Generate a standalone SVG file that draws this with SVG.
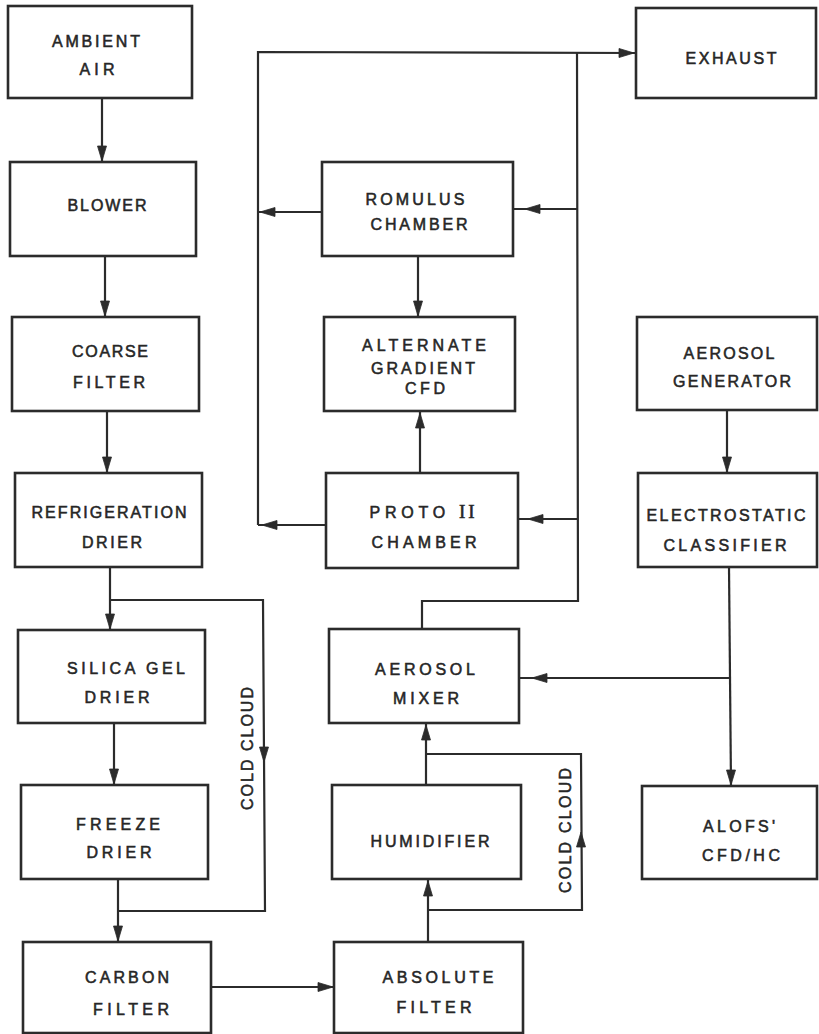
<svg xmlns="http://www.w3.org/2000/svg" xmlns:xlink="http://www.w3.org/1999/xlink" width="819" height="1034" viewBox="0 0 819 1034">
<style>
.box{fill:#fff;stroke:#2b2b2b;stroke-width:2.6}
.ln{fill:none;stroke:#2b2b2b;stroke-width:2.2;stroke-linejoin:miter}
.ah{fill:#2b2b2b;stroke:#2b2b2b;stroke-width:0.8}
.t{font-family:"Liberation Sans",Arial,sans-serif;font-size:16px;fill:#262626;stroke:#262626;stroke-width:0.55;text-anchor:middle}
.r{font-family:"Liberation Serif","Times New Roman",serif}
</style>
<defs>
<path id="ah" d="M0,0 L-15,-4.5 L-15,4.5 Z"/>
</defs>
<rect width="819" height="1034" fill="#fff"/>
<g id="connectors">
<path class="ln" d="M102,98 L102,162"/>
<path class="ln" d="M105,256 L105,317"/>
<path class="ln" d="M107,411 L107,473"/>
<path class="ln" d="M110,567 L110,630"/>
<path class="ln" d="M110,600 L263,600 L265,911 L118,911"/>
<path class="ln" d="M114,723 L114,785"/>
<path class="ln" d="M118,879 L118,942"/>
<path class="ln" d="M211,987 L334,987"/>
<path class="ln" d="M258,525 L258,52 L636,53"/>
<path class="ln" d="M322,212 L258,212"/>
<path class="ln" d="M326,525 L258,525"/>
<path class="ln" d="M577,52 L578,601 L422,601 L422,629"/>
<path class="ln" d="M577,209 L513,209"/>
<path class="ln" d="M578,519 L518,519"/>
<path class="ln" d="M418,256 L418,317"/>
<path class="ln" d="M420,473 L420,411"/>
<path class="ln" d="M426,785 L426,723"/>
<path class="ln" d="M428,942 L428,879"/>
<path class="ln" d="M428,910 L582,910 L581,754 L426,754"/>
<path class="ln" d="M727,410 L727,473"/>
<path class="ln" d="M729,567 L731,786"/>
<path class="ln" d="M730,678 L519,678"/>
<use class="ah" xlink:href="#ah" href="#ah" transform="translate(102,161) rotate(90)"/>
<use class="ah" xlink:href="#ah" href="#ah" transform="translate(105,316) rotate(90)"/>
<use class="ah" xlink:href="#ah" href="#ah" transform="translate(107,472) rotate(90)"/>
<use class="ah" xlink:href="#ah" href="#ah" transform="translate(110,629) rotate(90)"/>
<use class="ah" xlink:href="#ah" href="#ah" transform="translate(114,784) rotate(90)"/>
<use class="ah" xlink:href="#ah" href="#ah" transform="translate(118,941) rotate(90)"/>
<use class="ah" xlink:href="#ah" href="#ah" transform="translate(264,762) rotate(90)"/>
<use class="ah" xlink:href="#ah" href="#ah" transform="translate(333,987)"/>
<use class="ah" xlink:href="#ah" href="#ah" transform="translate(428,881) rotate(-90)"/>
<use class="ah" xlink:href="#ah" href="#ah" transform="translate(581,832) rotate(-90)"/>
<use class="ah" xlink:href="#ah" href="#ah" transform="translate(426,725) rotate(-90)"/>
<use class="ah" xlink:href="#ah" href="#ah" transform="translate(532,678) rotate(180)"/>
<use class="ah" xlink:href="#ah" href="#ah" transform="translate(731,785) rotate(90)"/>
<use class="ah" xlink:href="#ah" href="#ah" transform="translate(727,472) rotate(90)"/>
<use class="ah" xlink:href="#ah" href="#ah" transform="translate(420,413) rotate(-90)"/>
<use class="ah" xlink:href="#ah" href="#ah" transform="translate(418,316) rotate(90)"/>
<use class="ah" xlink:href="#ah" href="#ah" transform="translate(260,212) rotate(180)"/>
<use class="ah" xlink:href="#ah" href="#ah" transform="translate(262,525) rotate(180)"/>
<use class="ah" xlink:href="#ah" href="#ah" transform="translate(525,209) rotate(180)"/>
<use class="ah" xlink:href="#ah" href="#ah" transform="translate(528,519) rotate(180)"/>
<use class="ah" xlink:href="#ah" href="#ah" transform="translate(634,53)"/>
</g>
<g id="cold-cloud-1"><text class="t" transform="translate(253,748.5) rotate(-90)" x="0" y="0" textLength="123" lengthAdjust="spacing">COLD CLOUD</text></g>
<g id="cold-cloud-2"><text class="t" transform="translate(571,830.5) rotate(-90)" x="0" y="0" textLength="125" lengthAdjust="spacing">COLD CLOUD</text></g>
<g id="ambient-air"><rect class="box" x="8" y="6" width="184" height="92"/>
<text class="t" x="96" y="47" textLength="88" lengthAdjust="spacing">AMBIENT</text>
<text class="t" x="97" y="75" textLength="35" lengthAdjust="spacing">AIR</text></g>
<g id="blower"><rect class="box" x="10" y="162" width="186" height="94"/>
<text class="t" x="107" y="211" textLength="79" lengthAdjust="spacing">BLOWER</text></g>
<g id="coarse-filter"><rect class="box" x="12" y="317" width="187" height="94"/>
<text class="t" x="110" y="357" textLength="76" lengthAdjust="spacing">COARSE</text>
<text class="t" x="109" y="388" textLength="72" lengthAdjust="spacing">FILTER</text></g>
<g id="refrigeration-drier"><rect class="box" x="15" y="473" width="187" height="94"/>
<text class="t" x="109" y="518" textLength="155" lengthAdjust="spacing">REFRIGERATION</text>
<text class="t" x="112" y="548" textLength="60" lengthAdjust="spacing">DRIER</text></g>
<g id="silica-gel-drier"><rect class="box" x="18" y="630" width="187" height="93"/>
<text class="t" x="126" y="674" textLength="118" lengthAdjust="spacing">SILICA GEL</text>
<text class="t" x="117" y="703" textLength="65" lengthAdjust="spacing">DRIER</text></g>
<g id="freeze-drier"><rect class="box" x="21" y="785" width="187" height="94"/>
<text class="t" x="118" y="830" textLength="84" lengthAdjust="spacing">FREEZE</text>
<text class="t" x="119" y="858" textLength="65" lengthAdjust="spacing">DRIER</text></g>
<g id="carbon-filter"><rect class="box" x="23" y="942" width="188" height="91"/>
<text class="t" x="127" y="983" textLength="84" lengthAdjust="spacing">CARBON</text>
<text class="t" x="131" y="1015" textLength="76" lengthAdjust="spacing">FILTER</text></g>
<g id="exhaust"><rect class="box" x="636" y="8" width="180" height="90"/>
<text class="t" x="731" y="64" textLength="91" lengthAdjust="spacing">EXHAUST</text></g>
<g id="romulus-chamber"><rect class="box" x="322" y="162" width="191" height="94"/>
<text class="t" x="415" y="205" textLength="99" lengthAdjust="spacing">ROMULUS</text>
<text class="t" x="419" y="230" textLength="97" lengthAdjust="spacing">CHAMBER</text></g>
<g id="alternate-gradient-cfd"><rect class="box" x="324" y="317" width="191" height="94"/>
<text class="t" x="424" y="351" textLength="124" lengthAdjust="spacing">ALTERNATE</text>
<text class="t" x="423" y="374" textLength="104" lengthAdjust="spacing">GRADIENT</text>
<text class="t" x="425" y="394" textLength="40" lengthAdjust="spacing">CFD</text></g>
<g id="proto-ii-chamber"><rect class="box" x="326" y="473" width="192" height="95"/>
<text class="t" x="421" y="518" textLength="103" lengthAdjust="spacing">PROTO <tspan class="r" font-size="19" letter-spacing="-2">II</tspan></text>
<text class="t" x="424" y="548" textLength="105" lengthAdjust="spacing">CHAMBER</text></g>
<g id="aerosol-mixer"><rect class="box" x="329" y="629" width="190" height="94"/>
<text class="t" x="425" y="675" textLength="100" lengthAdjust="spacing">AEROSOL</text>
<text class="t" x="426" y="704" textLength="66" lengthAdjust="spacing">MIXER</text></g>
<g id="humidifier"><rect class="box" x="332" y="785" width="189" height="94"/>
<text class="t" x="430" y="847" textLength="119" lengthAdjust="spacing">HUMIDIFIER</text></g>
<g id="absolute-filter"><rect class="box" x="334" y="942" width="189" height="91"/>
<text class="t" x="438" y="983" textLength="111" lengthAdjust="spacing">ABSOLUTE</text>
<text class="t" x="434" y="1013" textLength="75" lengthAdjust="spacing">FILTER</text></g>
<g id="aerosol-generator"><rect class="box" x="637" y="317" width="180" height="93"/>
<text class="t" x="729" y="359" textLength="91" lengthAdjust="spacing">AEROSOL</text>
<text class="t" x="732" y="387" textLength="118" lengthAdjust="spacing">GENERATOR</text></g>
<g id="electrostatic-classifier"><rect class="box" x="638" y="473" width="179" height="94"/>
<text class="t" x="726" y="521" textLength="159" lengthAdjust="spacing">ELECTROSTATIC</text>
<text class="t" x="725" y="551" textLength="123" lengthAdjust="spacing">CLASSIFIER</text></g>
<g id="alofs-cfd-hc"><rect class="box" x="642" y="786" width="175" height="93"/>
<text class="t" x="739" y="832" textLength="72" lengthAdjust="spacing">ALOFS'</text>
<text class="t" x="741" y="861" textLength="78" lengthAdjust="spacing">CFD/HC</text></g>
</svg>
